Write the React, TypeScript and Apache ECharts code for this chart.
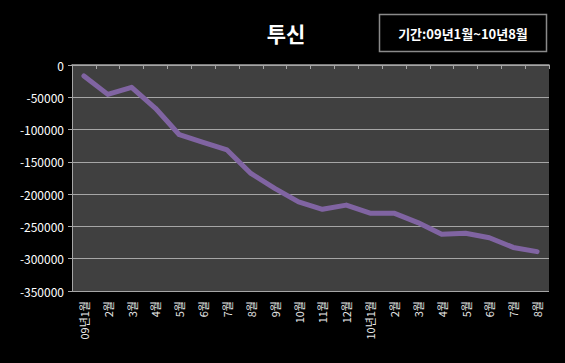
import React, { useEffect, useRef } from "react";
import * as echarts from "echarts";

const categories = [
  "09년1월", "2월", "3월", "4월", "5월", "6월", "7월", "8월", "9월", "10월", "11월", "12월",
  "10년1월", "2월", "3월", "4월", "5월", "6월", "7월", "8월",
];
const values = [
  -17000, -45500, -34500, -67000, -108000, -120000, -131500, -168000, -191000, -212000,
  -223500, -217000, -229500, -229500, -244000, -262000, -260500, -267500, -282500, -289000,
];
const titleText = "투신";
const periodText = "기간:09년1월~10년8월";

export default function App() {
  const ref = useRef<HTMLDivElement>(null);
  useEffect(() => {
    document.body.style.margin = "0";
    document.body.style.background = "#000";
    const chart = echarts.init(ref.current!, null, { renderer: "svg" });
    const font = "'Noto Sans CJK KR', 'Noto Sans', sans-serif";
    chart.setOption({
      animation: false,
      backgroundColor: "#000000",
      textStyle: { fontFamily: font },
      title: {
        text: titleText,
        left: 281,
        top: 17,
        textAlign: "center",
        textStyle: { color: "#ffffff", fontSize: 21, fontWeight: "bold", fontFamily: font },
      },
      graphic: [
        {
          type: "rect",
          shape: { x: 379.5, y: 14.5, width: 167, height: 37 },
          style: { fill: "#000", stroke: "#8a8a8a", lineWidth: 1.5 },
        },
        {
          type: "text",
          x: 463,
          y: 33,
          style: {
            text: periodText,
            fill: "#ffffff",
            fontSize: 13,
            fontWeight: "bold",
            fontFamily: font,
            textAlign: "center",
            textVerticalAlign: "middle",
          },
        },
      ],
      grid: {
        left: 72,
        top: 65,
        right: 16,
        bottom: 72,
        show: true,
        backgroundColor: "#404040",
        borderWidth: 0,
      },
      xAxis: [
        {
          type: "category",
          data: categories,
          position: "bottom",
          boundaryGap: true,
          axisLine: { show: true, lineStyle: { color: "#a6a6a6", width: 1.5 } },
          axisTick: { show: false },
          axisLabel: {
            rotate: 90,
            interval: 0,
            color: "#e8e8e8",
            fontSize: 11,
            margin: 10,
            fontFamily: font,
          },
        },
        {
          type: "category",
          data: categories,
          position: "top",
          boundaryGap: true,
          axisLine: { show: true, lineStyle: { color: "#a6a6a6", width: 1 } },
          axisTick: { show: true, inside: true, length: 4, interval: 0, lineStyle: { color: "#a6a6a6" } },
          axisLabel: { show: false },
        },
      ],
      yAxis: {
        type: "value",
        min: -350000,
        max: 0,
        interval: 50000,
        axisLine: { show: true, lineStyle: { color: "#a6a6a6", width: 1 } },
        axisTick: { show: true, length: 4, lineStyle: { color: "#a6a6a6" } },
        axisLabel: {
          color: "#ffffff",
          fontSize: 12,
          margin: 8,
          fontFamily: font,
          formatter: (v: number) => String(v),
        },
        splitLine: { show: true, lineStyle: { color: "#a6a6a6", width: 1 } },
      },
      series: [
        {
          type: "line",
          data: values,
          xAxisIndex: 0,
          showSymbol: false,
          symbol: "none",
          lineStyle: { color: "#8064a2", width: 5, cap: "round", join: "round" },
          itemStyle: { color: "#8064a2" },
        },
      ],
    });
    return () => chart.dispose();
  }, []);
  return (
    <div
      ref={ref}
      style={{ position: "absolute", left: 0, top: 0, width: 565, height: 363, background: "#000" }}
    />
  );
}
